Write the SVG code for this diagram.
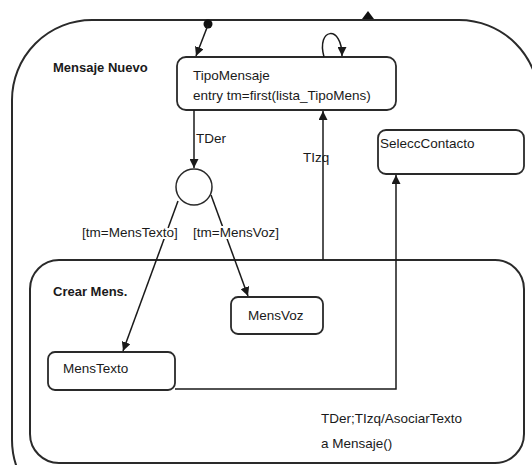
<svg xmlns="http://www.w3.org/2000/svg" width="532" height="465" viewBox="0 0 532 465">
<defs>
<marker id="ah" viewBox="0 0 10 10" refX="10" refY="5" markerWidth="9" markerHeight="9" markerUnits="userSpaceOnUse" orient="auto">
<path d="M0,0 L10,5 L0,10 z" fill="#1a1a1a"/>
</marker>
</defs>
<style>
.st{fill:#fff;stroke:#2a2a2a;stroke-width:2}
.box{fill:#fff;stroke:#2a2a2a;stroke-width:1.8}
.t{font-family:"Liberation Sans",Arial,sans-serif;font-size:13.5px;fill:#1a1a1a}
.b{font-family:"Liberation Sans",Arial,sans-serif;font-size:13px;font-weight:bold;fill:#1a1a1a}
.c{fill:none;stroke:#1a1a1a;stroke-width:1.5;marker-end:url(#ah)}
</style>
<rect width="532" height="465" fill="#fff"/>
<g id="mensaje-nuevo">
<rect class="st" x="12" y="20" width="527" height="500" rx="80" ry="80" stroke-width="2.5"/>
<text class="b" x="53" y="72">Mensaje Nuevo</text>
</g>
<g id="crear-mens">
<rect class="st" x="30" y="260" width="494" height="203" rx="29" ry="29"/>
<text class="b" x="53" y="296">Crear Mens.</text>
</g>
<g id="initial">
<circle cx="208" cy="24" r="4.5" fill="#111"/>
</g>
<g id="top-exit">
<path d="M362,19 L368,11 L374,19 z" fill="#111"/>
</g>
<g id="tipo-mensaje">
<rect class="box" x="177" y="57" width="219" height="53" rx="9" ry="9"/>
<text class="t" x="193" y="80">TipoMensaje</text>
<text class="t" x="193" y="100">entry tm=first(lista_TipoMens)</text>
</g>
<g id="choice">
<circle cx="194" cy="187" r="18" fill="#fff" stroke="#2a2a2a" stroke-width="1.5"/>
</g>
<g id="selecc-contacto">
<rect class="box" x="378" y="130" width="146" height="44" rx="8" ry="8"/>
<text class="t" x="380" y="148">SeleccContacto</text>
</g>
<g id="mens-voz">
<rect class="box" x="231" y="297" width="92" height="37" rx="7" ry="7"/>
<text class="t" x="248" y="320">MensVoz</text>
</g>
<g id="mens-texto">
<rect class="box" x="48" y="352" width="127" height="38" rx="7" ry="7"/>
<text class="t" x="63" y="373">MensTexto</text>
</g>
<g id="connectors">
<line class="c" x1="208" y1="25" x2="196" y2="56"/>
<path class="c" d="M324,57 C316,28 342,24 342,56"/>
<line class="c" x1="194" y1="110" x2="194" y2="168"/>
<line class="c" x1="178" y1="201" x2="123" y2="351"/>
<line class="c" x1="211" y1="195" x2="248" y2="296"/>
<line class="c" x1="323" y1="260" x2="323" y2="111"/>
<path class="c" d="M175,389 H396 V175"/>
</g>
<g id="labels">
<text class="t" x="196" y="143">TDer</text>
<text class="t" x="82" y="237" style="paint-order:stroke" stroke="#fff" stroke-width="4">[tm=MensTexto]</text>
<text class="t" x="193" y="237" style="paint-order:stroke" stroke="#fff" stroke-width="4">[tm=MensVoz]</text>
<text class="t" x="303" y="162">TIzq</text>
<text class="t" x="321" y="423">TDer;TIzq/AsociarTexto</text>
<text class="t" x="321" y="448">a Mensaje()</text>
</g>
</svg>
